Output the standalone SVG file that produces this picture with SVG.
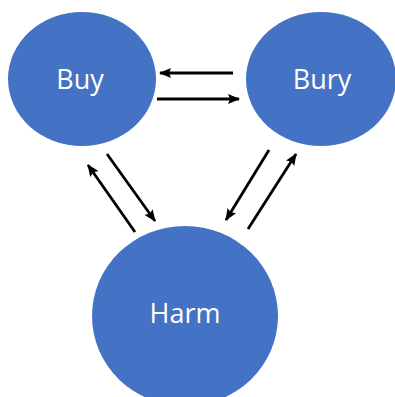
<svg xmlns="http://www.w3.org/2000/svg" width="395" height="397" viewBox="0 0 395 397">
<style>
.node{fill:#4472C4;}
.lbl{fill:#ffffff;font-family:"Open Sans","Liberation Sans",sans-serif;font-size:27px;text-anchor:middle;}
.arr{stroke:#000;stroke-width:2.8;fill:none;marker-end:url(#ah);}
</style>
<defs>
<marker id="ah" markerWidth="12" markerHeight="10" refX="11" refY="5" orient="auto" markerUnits="userSpaceOnUse">
<path d="M0,0 L12,5 L0,10 L2,5 z" fill="#000"/>
</marker>
</defs>
<rect width="395" height="397" fill="#fff"/>
<g id="buy"><ellipse class="node" cx="82" cy="79" rx="74" ry="67"/><text class="lbl" x="80" y="89">Buy</text></g>
<g id="bury"><ellipse class="node" cx="321" cy="79" rx="75" ry="67"/><text class="lbl" x="322" y="89">Bury</text></g>
<g id="harm"><ellipse class="node" cx="185" cy="316" rx="93" ry="90"/><text class="lbl" x="185" y="323">Harm</text></g>
<g id="connectors">
<line class="arr" x1="233" y1="73" x2="160" y2="73"/>
<line class="arr" x1="157" y1="99" x2="239" y2="99"/>
<line class="arr" x1="107" y1="154" x2="155" y2="221"/>
<line class="arr" x1="135" y1="232" x2="88" y2="165"/>
<line class="arr" x1="269" y1="150" x2="226" y2="220"/>
<line class="arr" x1="248" y1="229" x2="296" y2="154"/>
</g>
</svg>
